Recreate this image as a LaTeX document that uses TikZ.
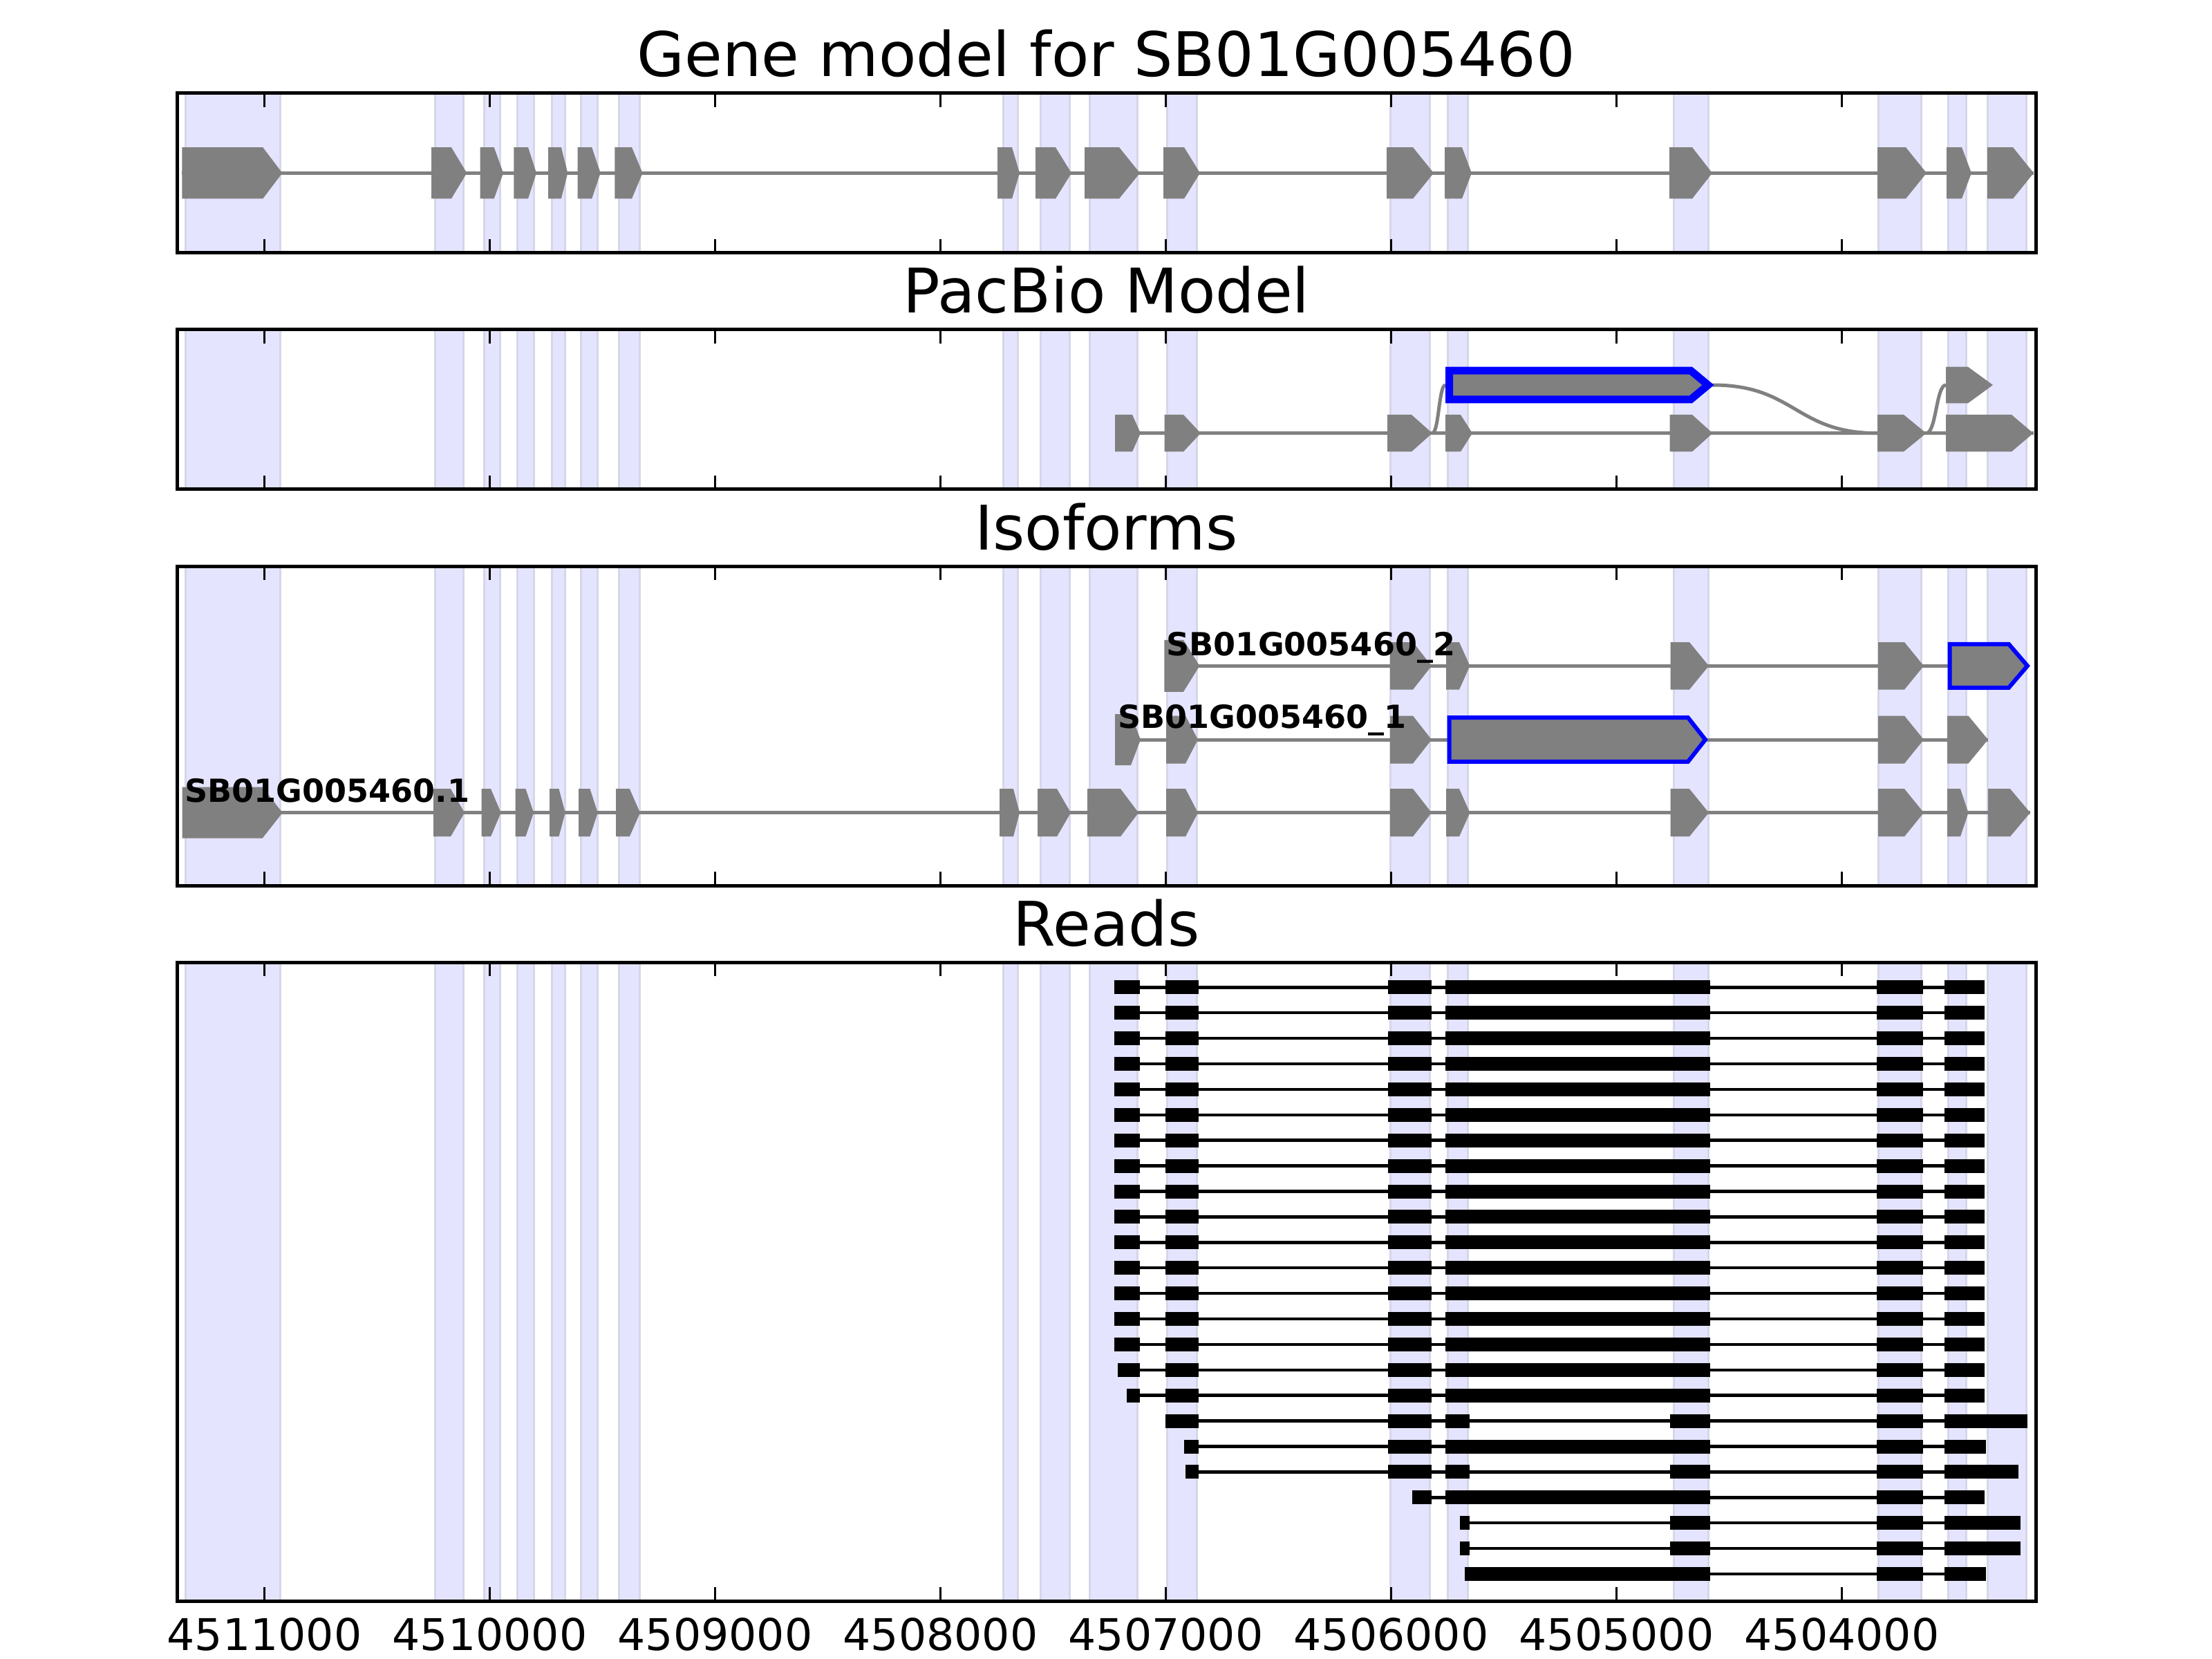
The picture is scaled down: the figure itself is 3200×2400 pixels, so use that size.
\documentclass[tikz,border=0pt]{standalone}
\usepackage{fontspec}
\setmainfont{DejaVu Sans}
\definecolor{bandfill}{RGB}{228,228,254}
\definecolor{bandedge}{RGB}{214,214,234}
\definecolor{exongray}{RGB}{128,128,128}
\tikzset{
  band/.style={fill=bandfill,draw=bandedge,line width=0.3mm},
  exon/.style={fill=exongray},
  picked/.style={fill=exongray,draw=blue},
  intron/.style={draw=exongray,line width=0.5mm},
  readbox/.style={fill=black},
  readline/.style={draw=black,line width=0.45mm},
  axisframe/.style={draw=black,line width=0.5mm},
  axistick/.style={draw=black,line width=0.25mm},
  paneltitle/.style={anchor=base,inner sep=0pt,font=\fontsize{25.3}{30}\selectfont},
  isolabel/.style={anchor=base west,inner sep=0pt,font=\fontsize{13.1}{15}\selectfont\bfseries},
  ticklabel/.style={anchor=base,inner sep=0pt,font=\fontsize{18}{22}\selectfont}
}
% exon arrow: y, start, end of body, tip, half height
\newcommand{\exonat}[6][exon]{\path[#1] (#3,#2-#6) -- (#4,#2-#6) -- (#5,#2) -- (#4,#2+#6) -- (#3,#2+#6) -- cycle;}
% one read: row, first and last position, blocks
\newcommand{\readat}[4]{%
  \pgfmathsetmacro{\ry}{1428.3+36.9*(#1-1)}
  \draw[readline] (#2,\ry) -- (#3,\ry);
  \foreach \a/\b in {#4} {\path[readbox] (\a,\ry-10) rectangle (\b,\ry+10);}
}
\newcommand{\bandlist}{268/405,629.6/670.8,700.4/723.6,748.3/772,798.4/817.7,840/864.3,895.2/925.2,1451/1472,1505/1547,1576/1645,1688/1731,2011/2068,2094/2123,2421/2471,2717/2779,2818/2844,2875/2931}
\begin{document}
\begin{tikzpicture}[x=0.1mm,y=-0.1mm]
\useasboundingbox (0,0) rectangle (3200,2400);
\fill[white] (0,0) rectangle (3200,2400);
%\draw[step=100,gray,very thin] (0,0) grid (3200,2400); %background grid
\foreach \ptop/\pbot in {135/366,477/708,819/1281,1392/2316}{
  \foreach \a/\b in \bandlist {\draw[band] (\a,\ptop) rectangle (\b,\pbot);}
}

% gene model
\draw[intron] (263,250.3) -- (2942,250.3);
\foreach \a/\b/\c in {263.3/380.2/408.4,624.2/652.9/675.3,694.5/714.7/728.1,743.4/764/776,793/811.9/821.3,835.6/856.2/868.7,889.4/914/929.6,1443/1464/1475,1498/1527/1550,1569/1619/1649,1683/1713/1736,2006/2044/2074,2090/2115/2129,2415/2448/2477,2716/2757/2787,2816/2838/2852,2875/2912/2942}
  {\exonat{250.3}{\a}{\b}{\c}{37.2}}

% pacbio model
\draw[intron] (1613,626.7) -- (2941.5,626.7);
\draw[intron] (2072,626.7) .. controls (2081.5,626.7) and (2081.5,557) .. (2091,557);
\draw[intron] (2477.6,557) .. controls (2597,557) and (2597,626.7) .. (2716,626.7);
\draw[intron] (2786.6,626.7) .. controls (2801,626.7) and (2801,557) .. (2815,557);
\foreach \a/\b/\c in {1613/1638/1650,1684.5/1712/1737,2007/2042/2072,2091/2113/2130,2415.5/2448/2477.6,2716/2754/2786.6,2815/2910/2941.5}
  {\exonat{626.7}{\a}{\b}{\c}{26.7}}
\exonat{557}{2815}{2847}{2883}{26.3}
\exonat[picked,line width=1.1mm]{557}{2096.5}{2446}{2471}{20.8}

% isoforms
\draw[intron] (1685,963.3) -- (2818,963.3);
\exonat{963.3}{1684.4}{1712}{1735.4}{37.5}
\foreach \a/\b/\c in {2011/2044/2071,2092/2111/2126.5,2416.5/2444/2472,2717/2755/2783}
  {\exonat{963.3}{\a}{\b}{\c}{34.3}}
\exonat[picked,line width=0.6mm]{963.3}{2820.7}{2906}{2933}{31.5}
\draw[intron] (1613,1070) -- (2876,1070);
\exonat{1070}{1613}{1636}{1650}{37}
\foreach \a/\b/\c in {1687/1715/1733,2011/2044/2071,2717/2755/2783,2817/2847.5/2876}
  {\exonat{1070}{\a}{\b}{\c}{34.5}}
\exonat[picked,line width=0.6mm]{1070}{2096.7}{2442}{2467}{31.8}
\draw[intron] (263.5,1175.7) -- (2937,1175.7);
\exonat{1175.7}{263.5}{379.6}{408.7}{37}
\foreach \a/\b/\c in {627/652/672,696.5/710/724.7,745.6/760.5/772,795/808.5/817.7,837/853.5/864.7,891/910.8/926,1446/1466/1475,1501/1529/1549,1573/1621/1647,1687/1715/1733,2011/2044/2071,2092/2111/2126.5,2416.5/2444/2472,2717/2755/2783,2817/2836/2847.5,2876/2908/2937}
  {\exonat{1175.7}{\a}{\b}{\c}{34.5}}
\node[isolabel] (iso2) at (1687,948.3) {SB01G005460\_2};
\node[isolabel] (iso1) at (1616.7,1053.3) {SB01G005460\_1};
\node[isolabel] (iso0) at (266.6,1160) {SB01G005460.1};

% reads
\foreach \r in {1,...,15}
  {\readat{\r}{1612}{2871}{1612/1649,1686/1734,2008/2071,2091/2474,2715/2782,2813/2871}}
\readat{16}{1617}{2871}{1617/1649,1686/1734,2008/2071,2091/2474,2715/2782,2813/2871}
\readat{17}{1630}{2871}{1630/1649,1686/1734,2008/2071,2091/2474,2715/2782,2813/2871}
\readat{18}{1686}{2933}{1686/1734,2008/2071,2091/2126,2416/2474,2715/2782,2813/2933}
\readat{19}{1713}{2873}{1713/1734,2008/2071,2091/2474,2715/2782,2813/2873}
\readat{20}{1715}{2920}{1715/1734,2008/2071,2091/2126,2416/2474,2715/2782,2813/2920}
\readat{21}{2043}{2871}{2043/2071,2091/2474,2715/2782,2813/2871}
\readat{22}{2112}{2923}{2112/2126,2416/2474,2715/2782,2813/2923}
\readat{23}{2112}{2923}{2112/2126,2416/2474,2715/2782,2813/2923}
\readat{24}{2119}{2873}{2119/2474,2715/2782,2813/2873}

% frames and ticks
\foreach \ptop/\pbot in {135/366,477/708,819/1281,1392/2316}{
  \draw[axisframe] (256,\ptop) rectangle (2945,\pbot);
  \foreach \k in {0,...,7}{
    \draw[axistick] (382.5+326*\k,\ptop) -- ++(0,20);
    \draw[axistick] (382.5+326*\k,\pbot) -- ++(0,-20);
  }
}
\foreach \k/\lab in {0/4511000,1/4510000,2/4509000,3/4508000,4/4507000,5/4506000,6/4505000,7/4504000}
  \node[ticklabel] (tick\k) at (382.5+326*\k,2387) {\lab};

\node[paneltitle] (genetitle) at (1600.5,111) {Gene model for SB01G005460};
\node[paneltitle] (pacbiotitle) at (1600.5,453) {PacBio Model};
\node[paneltitle] (isotitle) at (1600.5,795) {Isoforms};
\node[paneltitle] (readstitle) at (1600.5,1368) {Reads};
\end{tikzpicture}
\end{document}
